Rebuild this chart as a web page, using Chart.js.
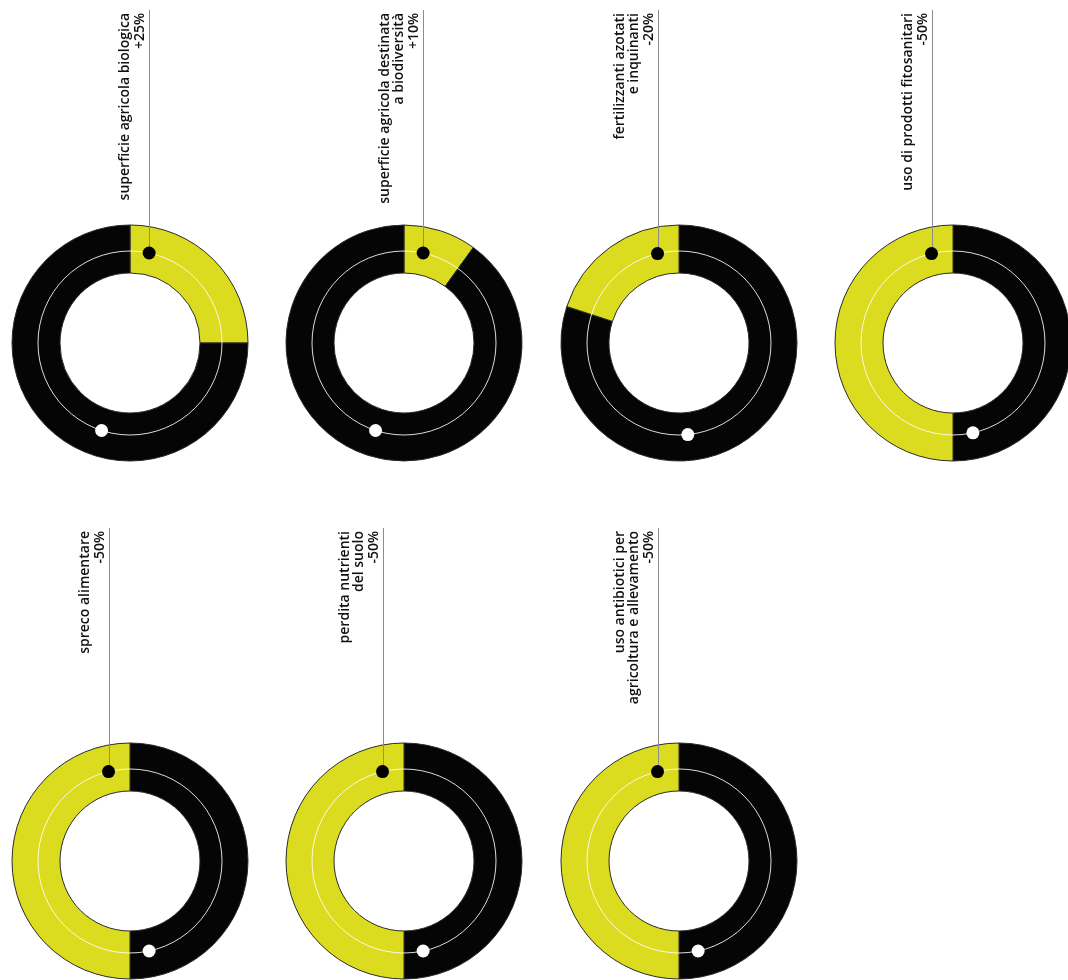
<!DOCTYPE html>
<html lang="it">
<head>
<meta charset="utf-8">
<title>Obiettivi agricoltura 2030</title>
<script src="https://cdn.jsdelivr.net/npm/chart.js@4.4.1/dist/chart.umd.min.js"></script>
<style>
  html, body { margin: 0; padding: 0; background: #fff; }
  body { width: 1068px; height: 980px; position: relative; overflow: hidden; }
  canvas { position: absolute; }
</style>
</head>
<body>
<script>
// righe di testo di ogni obiettivo (la percentuale viene aggiunta dal valore)
const categorie = [
  ['superficie agricola biologica'],
  ['superficie agricola destinata', 'a biodiversità'],
  ['fertilizzanti azotati', 'e inquinanti'],
  ['uso di prodotti fitosanitari'],
  ['spreco alimentare'],
  ['perdita nutrienti', 'del suolo'],
  ['uso antibiotici per', 'agricoltura e allevamento']
];
// variazione percentuale: positivo = aumento (senso orario), negativo = riduzione
const variazioni = [25, 10, -20, -50, -50, -50, -50];

// posizione del pallino bianco sull'anello, in gradi da ore 12
const pallinoBianco = [198, 198, 174.5, 167.5, 168, 168, 168];

const GIALLO = '#dbdb1f';
const NERO = '#050505';
const centriX = [129.5, 403.5, 679, 953];
const centriY = [343, 861];
const W = 274, H = 480, CY = 343;
const R_ESTERNO = 118, R_INTERNO = 70, R_TRACCIA = 92;

const fmt = v => (v > 0 ? '+' : '') + v + '%';

const anello = {
  id: 'anello',
  afterDatasetsDraw(chart, args, opts) {
    const { x, y } = chart.getDatasetMeta(0).data[0];
    const ctx = chart.ctx;
    const r = R_TRACCIA;
    const pt = deg => {
      const a = deg * Math.PI / 180;
      return [x + r * Math.sin(a), y - r * Math.cos(a)];
    };
    ctx.save();

    // traccia sottile sull'anello
    ctx.beginPath();
    ctx.arc(x, y, r, 0, Math.PI * 2);
    ctx.strokeStyle = 'rgba(255,255,255,0.85)';
    ctx.lineWidth = 1;
    ctx.stroke();

    // linea guida verso l'etichetta
    const [bx, by] = pt(opts.inizio);
    const lx = Math.round(bx) + 0.5;
    ctx.beginPath();
    ctx.moveTo(lx, 10);
    ctx.lineTo(lx, by);
    ctx.strokeStyle = '#8c8c8c';
    ctx.lineWidth = 1;
    ctx.stroke();

    // pallini
    ctx.beginPath();
    ctx.arc(bx, by, 6.5, 0, Math.PI * 2);
    ctx.fillStyle = '#000';
    ctx.fill();
    const [wx, wy] = pt(opts.fine);
    ctx.beginPath();
    ctx.arc(wx, wy, 6.5, 0, Math.PI * 2);
    ctx.fillStyle = '#fff';
    ctx.fill();

    // etichetta ruotata, allineata in alto
    const righe = opts.righe;
    ctx.fillStyle = '#111';
    ctx.font = '600 14px "Open Sans", sans-serif';
    ctx.textAlign = 'right';
    ctx.textBaseline = 'alphabetic';
    righe.forEach((t, i) => {
      ctx.save();
      ctx.translate(lx - 6 - (righe.length - 1 - i) * 14.5, 13);
      ctx.rotate(-Math.PI / 2);
      ctx.fillText(t, 0, 0);
      ctx.restore();
    });
    ctx.restore();
  }
};

variazioni.forEach((v, i) => {
  const cx = centriX[i % 4];
  const cy = centriY[Math.floor(i / 4)];
  const canvas = document.createElement('canvas');
  canvas.width = W;
  canvas.height = H;
  canvas.style.left = (cx - W / 2) + 'px';
  canvas.style.top = (cy - CY) + 'px';
  document.body.appendChild(canvas);

  const quota = Math.abs(v);
  const orario = v > 0;
  new Chart(canvas.getContext('2d'), {
    type: 'doughnut',
    data: {
      labels: orario ? ['obiettivo', 'resto'] : ['resto', 'obiettivo'],
      datasets: [{
        data: orario ? [quota, 100 - quota] : [100 - quota, quota],
        backgroundColor: orario ? [GIALLO, NERO] : [NERO, GIALLO],
        borderColor: '#2a2a2a',
        borderWidth: 1
      }]
    },
    options: {
      responsive: false,
      animation: false,
      events: [],
      radius: R_ESTERNO,
      cutout: (R_INTERNO / R_ESTERNO * 100) + '%',
      layout: { padding: { top: CY - W / 2 } },
      plugins: {
        legend: { display: false },
        tooltip: { enabled: false },
        anello: {
          inizio: orario ? 12 : -13.5,
          fine: pallinoBianco[i],
          righe: [...categorie[i], fmt(v)]
        }
      }
    },
    plugins: [anello]
  });
});
</script>
</body>
</html>
